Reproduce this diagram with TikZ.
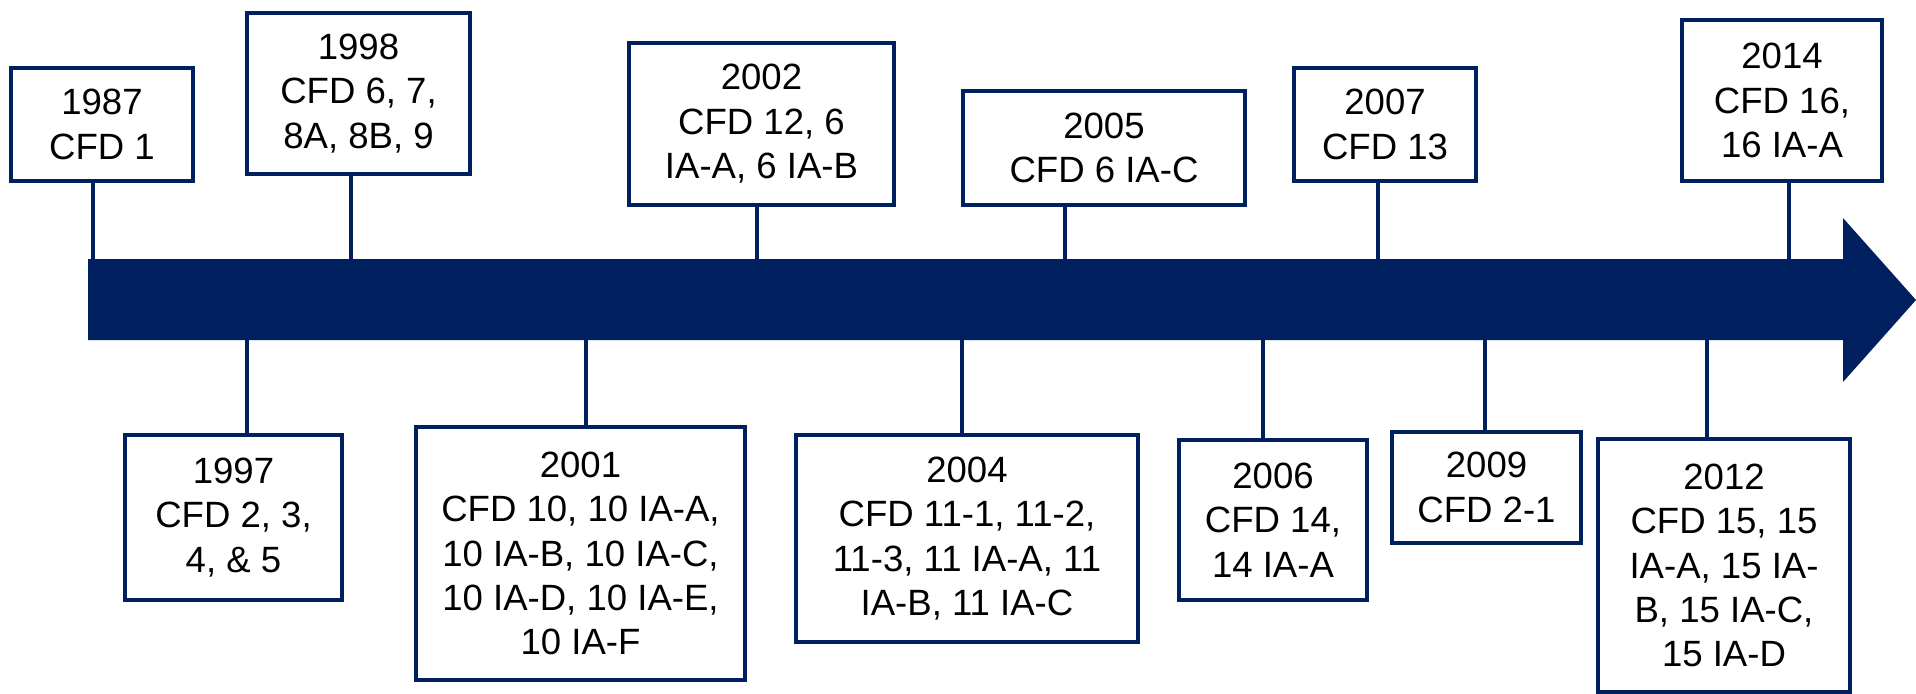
\documentclass[tikz,border=0pt]{standalone}
\usepackage{fontspec}
\setmainfont{Liberation Sans}
\definecolor{cfdblue}{HTML}{002060}
\tikzset{
    yearbox/.style={draw=cfdblue, line width=3.2pt, fill=white, align=center,
        inner sep=0pt, font=\fontsize{26}{31.6}\selectfont},
    tickline/.style={draw=cfdblue, line width=3.2pt}
}
\begin{document}
\begin{tikzpicture}[x=0.025cm,y=-0.025cm]
        % Frame
        \useasboundingbox (0,0) rectangle (1916,693);

        % Time arrow
        \fill[cfdblue] (88,259) -- (1843,259) -- (1843,218) -- (1916,300)
            -- (1843,382) -- (1843,340) -- (88,340) -- cycle;
        \coordinate (t1987) at (93,259);
        \coordinate (t1998) at (351,259);
        \coordinate (t2002) at (757,259);
        \coordinate (t2005) at (1065,259);
        \coordinate (t2007) at (1378,259);
        \coordinate (t2014) at (1789,259);
        \coordinate (t1997) at (247,340);
        \coordinate (t2001) at (586,340);
        \coordinate (t2004) at (962,340);
        \coordinate (t2006) at (1263,340);
        \coordinate (t2009) at (1485,340);
        \coordinate (t2012) at (1707,340);

        % Boxes above the arrow
        \node[yearbox, minimum width=4.55cm, minimum height=2.825cm] (y1987) at (102,124.5)
            {1987\\CFD 1};
        \node[yearbox, minimum width=5.575cm, minimum height=4.025cm] (y1998) at (358.5,93.5)
            {1998\\CFD 6, 7,\\8A, 8B, 9};
        \node[yearbox, minimum width=6.625cm, minimum height=4.05cm] (y2002) at (761.5,124)
            {2002\\CFD 12, 6\\IA-A, 6 IA-B};
        \node[yearbox, minimum width=7.05cm, minimum height=2.85cm] (y2005) at (1104,148)
            {2005\\CFD 6 IA-C};
        \node[yearbox, minimum width=4.55cm, minimum height=2.825cm] (y2007) at (1385,124.5)
            {2007\\CFD 13};
        \node[yearbox, minimum width=5cm, minimum height=4.025cm] (y2014) at (1782,100.5)
            {2014\\CFD 16,\\16 IA-A};

        % Boxes below the arrow
        \node[yearbox, minimum width=5.425cm, minimum height=4.125cm] (y1997) at (233.5,517.5)
            {1997\\CFD 2, 3,\\4, \& 5};
        \node[yearbox, minimum width=8.225cm, minimum height=6.325cm] (y2001) at (580.5,553.5)
            {2001\\CFD 10, 10 IA-A,\\10 IA-B, 10 IA-C,\\10 IA-D, 10 IA-E,\\10 IA-F};
        \node[yearbox, minimum width=8.55cm, minimum height=5.175cm] (y2004) at (967,538.5)
            {2004\\CFD 11-1, 11-2,\\11-3, 11 IA-A, 11\\IA-B, 11 IA-C};
        \node[yearbox, minimum width=4.7cm, minimum height=4cm] (y2006) at (1273,520)
            {2006\\CFD 14,\\14 IA-A};
        \node[yearbox, minimum width=4.725cm, minimum height=2.775cm] (y2009) at (1486.5,487.5)
            {2009\\CFD 2-1};
        \node[yearbox, minimum width=6.3cm, minimum height=6.325cm] (y2012) at (1724,565.5)
            {2012\\CFD 15, 15\\IA-A, 15 IA-\\B, 15 IA-C,\\15 IA-D};

        % Ticks
        \draw[tickline] (t1987) -- (t1987 |- y1987.south);
        \draw[tickline] (t1998) -- (t1998 |- y1998.south);
        \draw[tickline] (t2002) -- (t2002 |- y2002.south);
        \draw[tickline] (t2005) -- (t2005 |- y2005.south);
        \draw[tickline] (t2007) -- (t2007 |- y2007.south);
        \draw[tickline] (t2014) -- (t2014 |- y2014.south);
        \draw[tickline] (t1997) -- (t1997 |- y1997.north);
        \draw[tickline] (t2001) -- (t2001 |- y2001.north);
        \draw[tickline] (t2004) -- (t2004 |- y2004.north);
        \draw[tickline] (t2006) -- (t2006 |- y2006.north);
        \draw[tickline] (t2009) -- (t2009 |- y2009.north);
        \draw[tickline] (t2012) -- (t2012 |- y2012.north);
    \end{tikzpicture}
\end{document}
